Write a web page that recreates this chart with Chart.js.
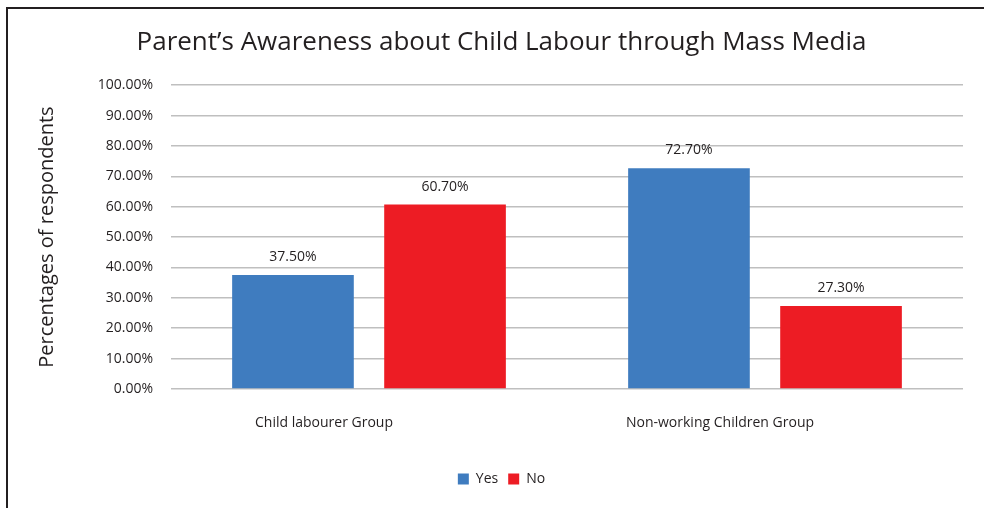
<!DOCTYPE html>
<html>
<head>
<meta charset="utf-8">
<script src="https://cdn.jsdelivr.net/npm/chart.js@4.4.1/dist/chart.umd.min.js"></script>
<style>
  html, body { margin: 0; padding: 0; background: #ffffff; }
  #wrap { position: absolute; left: 0; top: 0; width: 984px; height: 508px; }
  #frame { position: absolute; left: 6px; top: 7px; width: 1000px; height: 520px;
           border-left: 2px solid #231f20; border-top: 2px solid #231f20; pointer-events: none; }
</style>
</head>
<body>
<div id="frame"></div>
<div id="wrap"><canvas id="c" width="984" height="508"></canvas></div>
<script>
const categories = ["Child labourer Group", "Non-working Children Group"];
const seriesNames = ["Yes", "No"];
const yesValues = [37.5, 72.7];
const noValues = [60.7, 27.3];
const seriesColors = ["#3f7cbf", "#ed1c24"];
const chartTitle = "Parent\u2019s Awareness about Child Labour through Mass Media";
const yAxisTitle = "Percentages of respondents";

const FONT = "'Open Sans', 'Noto Sans', sans-serif";
const TEXT = "#231f20";

const valueLabels = {
  id: 'valueLabels',
  afterDatasetsDraw(chart) {
    const ctx = chart.ctx;
    ctx.save();
    ctx.font = "14px " + FONT;
    ctx.fillStyle = TEXT;
    ctx.textAlign = 'center';
    ctx.textBaseline = 'middle';
    chart.data.datasets.forEach((ds, i) => {
      const meta = chart.getDatasetMeta(i);
      meta.data.forEach((bar, j) => {
        ctx.fillText(ds.data[j].toFixed(2) + '%', bar.x, bar.y - 18);
      });
    });
    ctx.restore();
  }
};

new Chart(document.getElementById('c'), {
  type: 'bar',
  data: {
    labels: categories,
    datasets: [
      { label: seriesNames[0], data: yesValues, backgroundColor: seriesColors[0] },
      { label: seriesNames[1], data: noValues, backgroundColor: seriesColors[1] }
    ]
  },
  options: {
    responsive: false,
    animation: false,
    devicePixelRatio: 1,
    layout: { padding: { left: 40, right: 21, top: 0, bottom: 12 } },
    datasets: { bar: { categoryPercentage: 0.768, barPercentage: 0.8 } },
    plugins: {
      title: {
        display: true,
        text: chartTitle,
        color: TEXT,
        font: { family: FONT, size: 26, weight: 'normal' },
        padding: { top: 27, bottom: 27 }
      },
      legend: {
        display: true,
        position: 'bottom',
        labels: {
          color: TEXT,
          font: { family: FONT, size: 14 },
          boxWidth: 11,
          boxHeight: 11,
          padding: 10
        }
      },
      tooltip: { enabled: false }
    },
    scales: {
      x: {
        grid: { display: false, drawTicks: false },
        border: { display: false },
        ticks: { color: TEXT, font: { family: FONT, size: 14 }, padding: 26, labelOffset: -45 },
        afterFit(scale) { scale.height = 73; }
      },
      y: {
        min: 0,
        max: 100,
        ticks: {
          stepSize: 10,
          color: TEXT,
          font: { family: FONT, size: 14 },
          padding: 18,
          callback: v => Number(v).toFixed(2) + '%'
        },
        grid: { color: '#bfbfbf', lineWidth: 1.5, drawTicks: false },
        border: { display: false },
        title: {
          display: true,
          text: yAxisTitle,
          color: TEXT,
          font: { family: FONT, size: 20 },
          padding: { top: -5, bottom: 0 }
        },
        afterFit(scale) { scale.width = 131; }
      }
    }
  },
  plugins: [valueLabels]
});
</script>
</body>
</html>
